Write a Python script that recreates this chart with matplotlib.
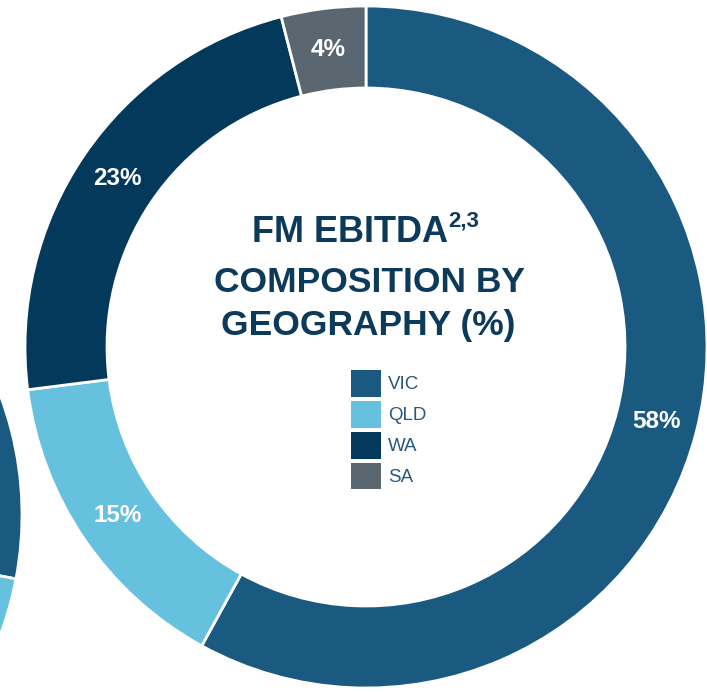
import matplotlib
matplotlib.use("Agg")
import matplotlib.pyplot as plt
from matplotlib.patches import Patch

# data
regions = ["VIC", "QLD", "WA", "SA"]
shares = [58, 15, 23, 4]
colors = ["#1b5a80", "#65c1de", "#033a5c", "#5b6770"]

# neighbouring donut, only a sliver shows at the left edge
side_shares = [28, 72]
side_colors = ["#1b5a80", "#65c1de"]

title_color = "#0b3a5a"
plt.rcParams["font.family"] = ["Liberation Sans", "DejaVu Sans"]

fig = plt.figure(figsize=(7.07, 6.92), dpi=100)
ax = fig.add_axes([0, 0, 1, 1])

R = 341
ring = 82

ax.pie(side_shares, colors=side_colors, startangle=90, counterclock=False,
       center=(-319, 177), radius=R,
       wedgeprops=dict(width=ring, edgecolor="white", linewidth=2))

wedges, _, pct = ax.pie(
    shares, colors=colors, startangle=90, counterclock=False,
    center=(366, 345), radius=R, autopct="%d%%", pctdistance=0.88,
    wedgeprops=dict(width=ring, edgecolor="white", linewidth=2))
for t in pct:
    t.set_color("white")
    t.set_fontweight("bold")
    t.set_fontsize(17.5)

# pie() resets the limits, so set them afterwards
ax.set_xlim(0, 707)
ax.set_ylim(0, 692)
ax.set_aspect("equal")
ax.axis("off")

# centre title
ax.text(350, 459, "FM EBITDA", ha="center", va="center", fontsize=26,
        fontweight="bold", color=title_color)
ax.text(448, 471, "2,3", ha="left", va="center", fontsize=16,
        fontweight="bold", color=title_color)
ax.text(370, 410, "COMPOSITION BY", ha="center", va="center", fontsize=25.5,
        fontweight="bold", color=title_color)
ax.text(368, 366, "GEOGRAPHY (%)", ha="center", va="center", fontsize=25.5,
        fontweight="bold", color=title_color)

handles = [Patch(facecolor=c, edgecolor="none") for c in colors]
leg = fig.legend(handles, regions, loc="upper left",
                 bbox_to_anchor=(351 / 707, 1 - 370 / 692),
                 frameon=False, fontsize=13.5, borderpad=0, borderaxespad=0,
                 handlelength=1.6, handleheight=1.82, handletextpad=0.36,
                 labelspacing=0.22)
for t in leg.get_texts():
    t.set_color("#2a587a")

fig.savefig("out.png", dpi=100)
